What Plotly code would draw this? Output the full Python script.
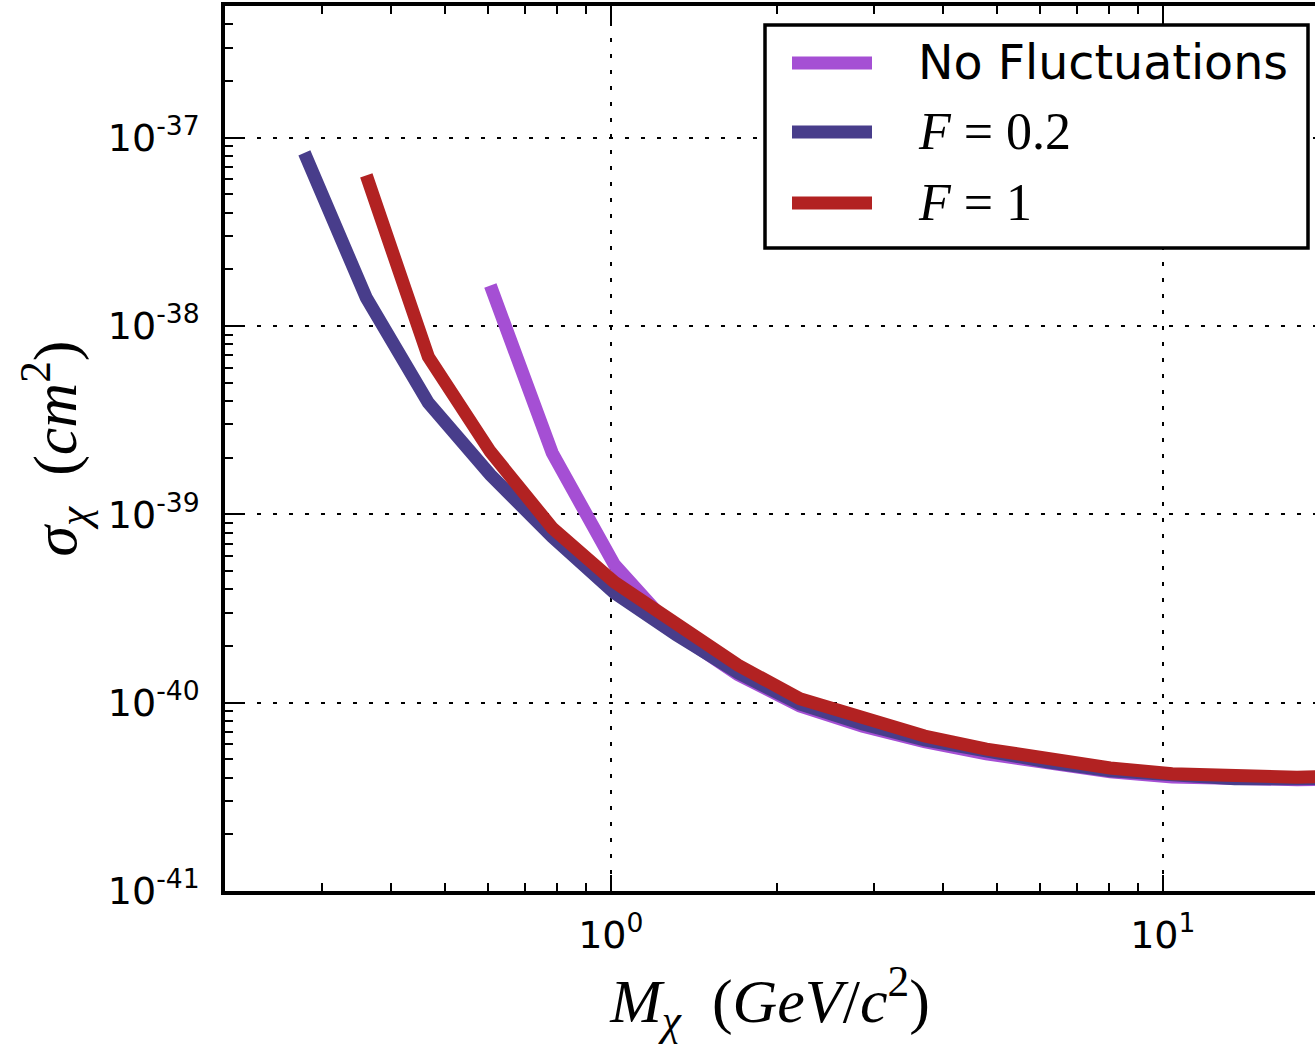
import plotly.graph_objects as go
import math

# ---- data ----
mass_f02 = [0.2785, 0.3606, 0.467, 0.605, 0.783, 1.015, 1.314, 1.70, 2.20, 2.86,
            3.70, 4.79, 6.20, 8.03, 10.4, 13.5, 17.5, 22.6]
sigma_f02 = [8.3e-38, 1.41e-38, 3.91e-39, 1.62e-39, 7.6e-40, 3.83e-40, 2.29e-40,
             1.44e-40, 9.84e-41, 7.71e-41, 6.34e-41, 5.47e-41, 4.84e-41, 4.35e-41,
             4.08e-41, 3.94e-41, 3.94e-41, 3.98e-41]

mass_f1 = [0.3606, 0.467, 0.605, 0.783, 1.015, 1.314, 1.70, 2.20, 2.86,
           3.70, 4.79, 6.20, 8.03, 10.4, 13.5, 17.5, 22.6]
sigma_f1 = [6.3e-38, 6.87e-39, 2.15e-39, 8.47e-40, 4.37e-40, 2.65e-40, 1.58e-40,
            1.05e-40, 8.2e-41, 6.65e-41, 5.67e-41, 5.02e-41, 4.5e-41, 4.19e-41,
            4.04e-41, 4.02e-41, 4.08e-41]

mass_nf = [0.605, 0.783, 1.015, 1.314, 1.70, 2.20, 2.86,
           3.70, 4.79, 6.20, 8.03, 10.4, 13.5, 17.5, 22.6]
sigma_nf = [1.64e-38, 2.12e-39, 5.4e-40, 2.34e-40, 1.41e-40, 9.6e-41, 7.5e-41,
            6.2e-41, 5.35e-41, 4.75e-41, 4.3e-41, 4.03e-41, 3.9e-41, 3.9e-41, 3.92e-41]

series_names = ["No Fluctuations", "<i>F</i> = 0.2", "<i>F</i> = 1"]
series_colors = ["#A54FD4", "#483D8B", "#B22222"]

x_tickvals = [1, 10]
x_ticktext = ["10<sup>0</sup>", "10<sup>1</sup>"]
y_tickvals = [1e-41, 1e-40, 1e-39, 1e-38, 1e-37]
y_ticktext = ["10<sup>-41</sup>", "10<sup>-40</sup>", "10<sup>-39</sup>",
              "10<sup>-38</sup>", "10<sup>-37</sup>"]

# ---- figure geometry ----
W, H = 1315, 1044
ML, MR, MT, MB = 225, 0, 6, 153
PW, PH = W - ML - MR, H - MT - MB

x_lo = math.log10(0.2)
x_hi = x_lo + PW / 552.0
y_lo, y_hi = -41, math.log10(5e-37)

fig = go.Figure()
for xs, ys, name, col in [(mass_nf, sigma_nf, series_names[0], series_colors[0]),
                          (mass_f02, sigma_f02, series_names[1], series_colors[1]),
                          (mass_f1, sigma_f1, series_names[2], series_colors[2])]:
    fig.add_trace(go.Scatter(x=xs, y=ys, mode="lines", name=name,
                             line=dict(color=col, width=13), showlegend=False))

minor_x = [m * 10 ** e for e in (-1, 0, 1) for m in range(2, 10)]
minor_y = [m * 10.0 ** e for e in range(-41, -36) for m in range(2, 10)]

common = dict(showline=True, linecolor="black", linewidth=3.5,
              ticks="inside", ticklen=16, tickwidth=2, tickcolor="black",
              showgrid=True, gridcolor="black", gridwidth=2, griddash="4px,12px",
              zeroline=False, tickfont=dict(family="DejaVu Sans", size=38, color="black"))

NB = "\u00a0"
fig.update_xaxes(type="log", range=[x_lo, x_hi], tickvals=x_tickvals, ticktext=x_ticktext,
                 mirror="allticks", ticklabelstandoff=8,
                 minor=dict(tickvals=minor_x, ticks="inside", ticklen=8, tickwidth=1.5,
                            tickcolor="black", showgrid=False),
                 title=dict(text="<i>M</i><sub><i>χ</i></sub>" + NB * 2 +
                                 "(<i>GeV</i>/<i>c</i><sup>2</sup>)",
                            font=dict(family="Liberation Serif", size=62, color="black"),
                            standoff=6),
                 **common)
fig.update_yaxes(type="log", range=[y_lo, y_hi], tickvals=y_tickvals, ticktext=y_ticktext,
                 ticklabelstandoff=14,
                 minor=dict(tickvals=minor_y, ticks="inside", ticklen=8, tickwidth=1.5,
                            tickcolor="black", showgrid=False),
                 title=dict(text="<i>σ</i><sub><i>χ</i></sub>" + NB * 2 +
                                 "(<i>cm</i><sup>2</sup>)",
                            font=dict(family="Liberation Serif", size=62, color="black"),
                            standoff=12),
                 **common)

# ---- legend (drawn as a boxed key in the upper right) ----
def px(xp):
    return (xp - ML) / PW

def py(yp):
    return 1 - (yp - MT) / PH

fig.add_shape(type="rect", xref="paper", yref="paper",
              x0=px(765), x1=px(1308), y0=py(248), y1=py(25),
              line=dict(color="black", width=3.5), fillcolor="white", layer="above")
rows = [63, 132, 203]
fonts = [dict(family="DejaVu Sans", size=47.5, color="black"),
         dict(family="Liberation Serif", size=52, color="black"),
         dict(family="Liberation Serif", size=52, color="black")]
for r, name, col, f in zip(rows, series_names, series_colors, fonts):
    fig.add_shape(type="line", xref="paper", yref="paper",
                  x0=px(792), x1=px(872), y0=py(r), y1=py(r),
                  line=dict(color=col, width=13), layer="above")
    fig.add_annotation(xref="paper", yref="paper", x=px(916), y=py(r),
                       text=name, showarrow=False, xanchor="left", yanchor="middle",
                       font=f)

fig.update_layout(width=W, height=H, margin=dict(l=ML, r=MR, t=MT, b=MB),
                  paper_bgcolor="white", plot_bgcolor="white", showlegend=False)

fig.write_html("out.html")
